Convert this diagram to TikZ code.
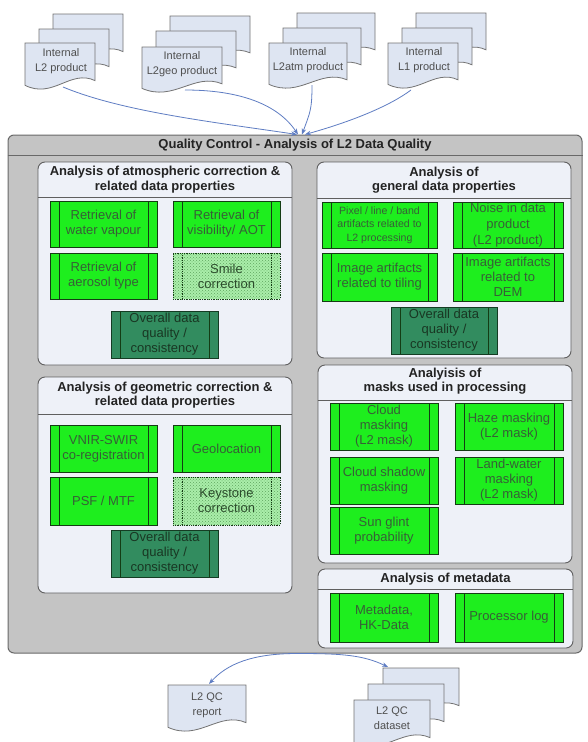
\documentclass[tikz,border=0pt]{standalone}
\usepackage{fontspec}
\setmainfont{Liberation Sans}
\usetikzlibrary{patterns,arrows.meta}
\definecolor{outerfill}{RGB}{196,196,196}
\definecolor{outerline}{RGB}{105,105,105}
\definecolor{panelfill}{RGB}{238,241,248}
\definecolor{panelline}{RGB}{95,95,95}
\definecolor{procgreen}{RGB}{30,238,30}
\definecolor{procline}{RGB}{20,60,20}
\definecolor{proctext}{RGB}{55,95,55}
\definecolor{hatchfill}{RGB}{170,238,170}
\definecolor{hatchdot}{RGB}{95,165,95}
\definecolor{overallfill}{RGB}{50,140,95}
\definecolor{overallline}{RGB}{20,60,35}
\definecolor{overalltext}{RGB}{25,55,35}
\definecolor{docfill}{RGB}{222,229,242}
\definecolor{docline}{RGB}{115,115,115}
\definecolor{arrowblue}{RGB}{95,125,195}
\definecolor{titletext}{RGB}{35,35,35}
\tikzset{
  txt/.style={align=center, inner sep=0pt},
  doctext/.style={txt, font=\fontsize{11}{15}\selectfont, text=titletext!80},
  docpage/.style={draw=docline, fill=docfill, line width=0.8pt},
  qcbox/.style={draw=outerline, fill=outerfill, line width=1pt, rounded corners=6pt, minimum width=574pt, minimum height=518pt, inner sep=0pt},
  hdr/.style={txt, font=\bfseries\fontsize{13}{14}\selectfont, text=titletext},
  panel/.style={draw=panelline, fill=panelfill, line width=0.9pt, rounded corners=7pt, inner sep=0pt},
  ptitle/.style={txt, font=\bfseries\fontsize{13}{14.5}\selectfont, text=titletext},
  sep/.style={draw=panelline, line width=0.9pt},
  sidesolid/.style={path picture={\draw[procline, line width=0.8pt] ([xshift=9pt]path picture bounding box.north west) -- ([xshift=9pt]path picture bounding box.south west) ([xshift=-9pt]path picture bounding box.north east) -- ([xshift=-9pt]path picture bounding box.south east);}},
  sidedotted/.style={path picture={\draw[procline, line width=0.8pt, densely dotted] ([xshift=9pt]path picture bounding box.north west) -- ([xshift=9pt]path picture bounding box.south west) ([xshift=-9pt]path picture bounding box.north east) -- ([xshift=-9pt]path picture bounding box.south east);}},
  proc/.style={rectangle, draw=procline, fill=procgreen, line width=0.8pt, text=proctext, txt, font=\fontsize{13}{15}\selectfont, minimum width=107pt, minimum height=47pt, sidesolid},
  hatch/.style={rectangle, draw=procline, densely dotted, preaction={fill=hatchfill}, pattern=crosshatch dots, pattern color=hatchdot, line width=0.8pt, text=proctext!80!black, txt, font=\fontsize{13}{15}\selectfont, minimum width=107pt, minimum height=47pt, sidedotted},
  overall/.style={rectangle, draw=overallline, fill=overallfill, line width=0.8pt, text=overalltext, txt, font=\fontsize{13}{15}\selectfont, minimum width=107pt, minimum height=47pt, sidesolid},
  conn/.style={draw=arrowblue, line width=0.8pt, -{Stealth[length=6pt,width=4.5pt]}},
}
\newcommand{\docpg}[4]{%
  \filldraw[docpage] (#1,#2) -- ({#1+#3},#2) -- ({#1+#3},{#2+0.8*#4})
    .. controls ({#1+0.65*#3},{#2+0.55*#4}) and ({#1+0.4*#3},{#2+1.2*#4}) .. (#1,{#2+0.9*#4}) -- cycle;}
\begin{document}
\begin{tikzpicture}[x=1pt,y=-1pt]
\useasboundingbox (0,0) rectangle (588,742);
\fill[white] (0,0) rectangle (588,742);

% ---- input documents
\docpg{53}{14}{70}{47}\docpg{39}{29}{70}{47}\docpg{25}{43}{70}{47}
\node[doctext] (doc1) at (61,61) {Internal\\L2 product};
\docpg{170}{16}{80}{46}\docpg{156}{31}{80}{46}\docpg{142}{47}{80}{46}
\node[doctext] (doc2) at (182,64) {Internal\\L2geo product};
\docpg{297}{13}{78}{46}\docpg{283}{28}{78}{46}\docpg{269}{43}{78}{46}
\node[doctext] (doc3) at (308,60) {Internal\\L2atm product};
\docpg{416}{13}{70}{46}\docpg{402}{28}{70}{46}\docpg{388}{43}{70}{46}
\node[doctext] (doc4) at (424,60) {Internal\\L1 product};
\coordinate (doc1b) at (63,87);
\coordinate (doc2b) at (185,90);
\coordinate (doc3b) at (312,85);
\coordinate (doc4b) at (411,90);

% ---- outer QC box
\node[qcbox] (qc) at (295,394) {};
\draw[sep, draw=outerline] (qc.west |- 0,155) -- (qc.east |- 0,155);
\node[hdr] (qct) at (295,145) {Quality Control - Analysis of L2 Data Quality};

% ---- panel 1: atmospheric
\node[panel, minimum width=254pt, minimum height=203pt] (p1) at (165,263.5) {};
\draw[sep] (p1.west |- 0,197) -- (p1.east |- 0,197);
\node[ptitle] (p1t) at (165,179.5) {Analysis of atmospheric correction \&\\related data properties};
\node[proc, minimum height=46pt] (a1) at (103.5,224) {Retrieval of\\water vapour};
\node[proc, minimum height=46pt] (a2) at (226.5,224) {Retrieval of\\visibility/ AOT};
\node[proc, minimum height=46pt] (a3) at (103.5,276) {Retrieval of\\aerosol type};
\node[hatch, minimum height=46pt] (a4) at (226.5,276) {Smile\\correction};
\node[overall] (a5) at (164.5,334.5) {Overall data\\quality /\\consistency};

% ---- panel 2: geometric
\node[panel, minimum width=254pt, minimum height=216pt] (p2) at (165,485) {};
\draw[sep] (p2.west |- 0,414) -- (p2.east |- 0,414);
\node[ptitle] (p2t) at (165,395) {Analysis of geometric correction \&\\related data properties};
\node[proc] (g1) at (103.5,448.5) {VNIR-SWIR\\co-registration};
\node[proc] (g2) at (226.5,448.5) {Geolocation};
\node[proc, minimum height=48pt] (g3) at (103.5,501) {PSF / MTF};
\node[hatch, minimum height=48pt] (g4) at (226.5,501) {Keystone\\correction};
\node[overall] (g5) at (164.5,553.5) {Overall data\\quality /\\consistency};

% ---- panel 3: general data properties
\node[panel, minimum width=254pt, minimum height=196pt] (p3) at (444,260) {};
\draw[sep] (p3.west |- 0,198) -- (p3.east |- 0,198);
\node[ptitle] (p3t) at (444,180) {Analysis of\\general data properties};
\node[proc, minimum width=115pt, minimum height=46pt, font=\fontsize{10.6}{13.5}\selectfont] (r1) at (379.5,225) {Pixel / line / band\\artifacts related to\\L2 processing};
\node[proc, minimum width=110pt, minimum height=46pt, font=\fontsize{13}{16}\selectfont] (r2) at (508,225) {Noise in data\\product\\(L2 product)};
\node[proc, minimum width=115pt, minimum height=48pt] (r3) at (379.5,277) {Image artifacts\\related to tiling};
\node[proc, minimum width=110pt, minimum height=48pt] (r4) at (508,277) {Image artifacts\\related to\\DEM};
\node[overall, minimum width=106pt] (r5) at (444,330.5) {Overall data\\quality /\\consistency};

% ---- panel 4: masks
\node[panel, minimum width=254pt, minimum height=198pt] (p4) at (445,464) {};
\draw[sep] (p4.west |- 0,400) -- (p4.east |- 0,400);
\node[ptitle] (p4t) at (445,381) {Analyisis of\\masks used in processing};
\node[proc, minimum width=108pt] (m1) at (384,426.5) {Cloud\\masking\\(L2 mask)};
\node[proc, minimum width=108pt] (m2) at (509,426.5) {Haze masking\\(L2 mask)};
\node[proc, minimum width=108pt] (m3) at (384,480.5) {Cloud shadow\\masking};
\node[proc, minimum width=108pt] (m4) at (509,480.5) {Land-water\\masking\\(L2 mask)};
\node[proc, minimum width=108pt] (m5) at (384,530.5) {Sun glint\\probability};

% ---- panel 5: metadata
\node[panel, minimum width=255pt, minimum height=79pt] (p5) at (445.5,608.5) {};
\draw[sep] (p5.west |- 0,589) -- (p5.east |- 0,589);
\node[ptitle] (p5t) at (445.5,579) {Analysis of metadata};
\node[proc, minimum width=108pt, minimum height=49pt] (d1) at (384,617.5) {Metadata,\\HK-Data};
\node[proc, minimum width=108pt, minimum height=49pt] (d2) at (509,617.5) {Processor log};

% ---- output documents
\docpg{168}{685}{78}{47}
\node[doctext] (rep) at (207,705) {L2 QC\\report};
\docpg{383}{668}{76}{47}\docpg{368}{684}{76}{47}\docpg{354}{700}{76}{47}
\node[doctext] (ds) at (392,718) {L2 QC\\dataset};
\coordinate (rept) at (209,684);
\coordinate (dst) at (388,667);

% ---- connectors
\draw[conn] (doc1b) .. controls +(60,25) and +(-80,-12) .. ([xshift=2pt]qc.north);
\draw[conn] (doc2b) .. controls +(55,0) and +(-20,-30) .. ([xshift=3pt]qc.north);
\draw[conn] (doc3b) .. controls +(0,25) and +(8,-22) .. ([xshift=7pt]qc.north);
\draw[conn] (doc4b) .. controls +(-20,15) and +(50,-14) .. ([xshift=10pt]qc.north);
\draw[conn] ([xshift=2pt]qc.south) .. controls +(-45,0) and +(18,-20) .. (rept);
\draw[conn] ([xshift=2pt]qc.south) .. controls +(45,0) and +(-25,-12) .. (dst);
\end{tikzpicture}
\end{document}
